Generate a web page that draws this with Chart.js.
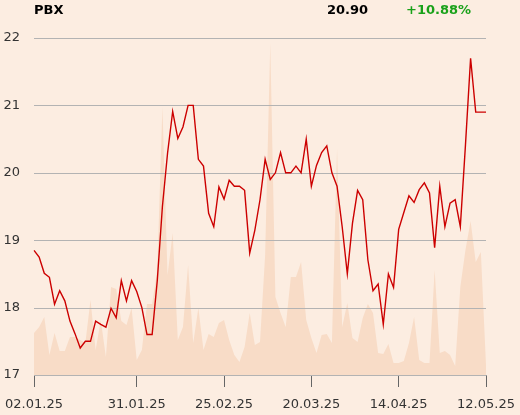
<!DOCTYPE html>
<html>
<head>
<meta charset="utf-8">
<script src="https://cdn.jsdelivr.net/npm/chart.js@4"></script>
<style>
  html, body { margin: 0; padding: 0; background: #fcede1; }
  #wrap { position: relative; width: 520px; height: 415px; font-family: "DejaVu Sans", sans-serif; }
  .hdr { position: absolute; top: 2px; font-size: 13px; font-weight: bold; color: #000; }
  #name { left: 34px; }
  #last { left: 327px; }
  #chg { left: 406px; color: #19a119; }
  canvas { position: absolute; left: 0; top: 0; }
</style>
</head>
<body>
<div id="wrap">
  <canvas id="chart" width="520" height="415"></canvas>
  <div class="hdr" id="name">PBX</div>
  <div class="hdr" id="last">20.90</div>
  <div class="hdr" id="chg">+10.88%</div>
</div>
<script>
// trading days shown on the chart
const dates = [
  '02.01.25','03.01.25','07.01.25','08.01.25','09.01.25','10.01.25','13.01.25','14.01.25','15.01.25','16.01.25',
  '17.01.25','20.01.25','21.01.25','22.01.25','23.01.25','24.01.25','27.01.25','28.01.25','29.01.25','30.01.25',
  '31.01.25','03.02.25','04.02.25','05.02.25','06.02.25','07.02.25','10.02.25','11.02.25','12.02.25','13.02.25',
  '14.02.25','17.02.25','18.02.25','19.02.25','20.02.25','21.02.25','24.02.25','25.02.25','26.02.25','27.02.25',
  '28.02.25','03.03.25','04.03.25','05.03.25','06.03.25','07.03.25','10.03.25','11.03.25','12.03.25','13.03.25',
  '14.03.25','17.03.25','18.03.25','19.03.25','20.03.25','21.03.25','24.03.25','25.03.25','26.03.25','27.03.25',
  '28.03.25','31.03.25','01.04.25','02.04.25','03.04.25','04.04.25','07.04.25','08.04.25','09.04.25','10.04.25',
  '11.04.25','14.04.25','15.04.25','16.04.25','17.04.25','22.04.25','23.04.25','24.04.25','25.04.25','28.04.25',
  '29.04.25','30.04.25','02.05.25','05.05.25','06.05.25','07.05.25','08.05.25','09.05.25','12.05.25'
];

// closing price
const prices = [
  18.85, 18.75, 18.51, 18.45, 18.05, 18.25, 18.10, 17.80, 17.61, 17.40,
  17.50, 17.50, 17.80, 17.75, 17.71, 17.99, 17.85, 18.40, 18.10, 18.40,
  18.24, 18.00, 17.60, 17.60, 18.40, 19.50, 20.29, 20.91, 20.51, 20.68,
  21.00, 21.00, 20.20, 20.10, 19.40, 19.20, 19.79, 19.61, 19.89, 19.80,
  19.80, 19.74, 18.81, 19.15, 19.60, 20.20, 19.90, 20.00, 20.30, 20.00,
  20.00, 20.10, 20.00, 20.50, 19.80, 20.11, 20.30, 20.40, 20.00, 19.80,
  19.20, 18.50, 19.25, 19.74, 19.60, 18.71, 18.25, 18.35, 17.75, 18.50,
  18.30, 19.16, 19.41, 19.66, 19.56, 19.75, 19.85, 19.70, 18.89, 19.80,
  19.20, 19.55, 19.60, 19.20, 20.41, 21.70, 20.90, 20.90, 20.90
];

// traded volume (thousand shares)
const volumes = [
  42, 48, 58, 20, 42, 24, 24, 38, 38, 35,
  32, 75, 25, 55, 18, 88, 86, 54, 50, 67,
  15, 25, 71, 71, 105, 268, 100, 142, 35, 48,
  110, 32, 67, 25, 41, 38, 52, 55, 35, 20,
  13, 28, 62, 30, 33, 120, 332, 78, 62, 48,
  98, 98, 113, 55, 37, 22, 40, 41, 32, 226,
  48, 72, 37, 33, 57, 71, 62, 22, 21, 31,
  12, 12, 14, 32, 58, 15, 12, 12, 105, 22,
  24, 20, 9, 88, 125, 154, 113, 123, 10
];

const tickDates = ['02.01.25', '31.01.25', '25.02.25', '20.03.25', '14.04.25', '12.05.25'];
const priceTicks = [17, 18, 19, 20, 21, 22];

// horizontal grid drawn above the volume area but below the price line
const gridAboveVolume = {
  id: 'gridAboveVolume',
  afterDatasetDraw(chart, args) {
    if (args.index !== 1) return;
    const { ctx, chartArea } = chart;
    const y = chart.scales.y;
    ctx.save();
    ctx.strokeStyle = '#b3b3b3';
    ctx.lineWidth = 1;
    priceTicks.forEach(v => {
      const py = Math.round(y.getPixelForValue(v)) + 0.5;
      ctx.beginPath();
      ctx.moveTo(chartArea.left, py);
      ctx.lineTo(chartArea.right, py);
      ctx.stroke();
    });
    ctx.restore();
  }
};

new Chart(document.getElementById('chart'), {
  type: 'line',
  data: {
    labels: dates,
    datasets: [
      {
        label: 'PBX',
        data: prices,
        borderColor: '#cc0000',
        borderWidth: 1.4,
        pointRadius: 0,
        tension: 0,
        yAxisID: 'y',
        order: 0
      },
      {
        label: 'Volume',
        data: volumes,
        borderWidth: 0,
        backgroundColor: '#f8dcc7',
        fill: 'origin',
        pointRadius: 0,
        tension: 0,
        yAxisID: 'y2',
        order: 1
      }
    ]
  },
  options: {
    responsive: false,
    animation: false,
    layout: { padding: { top: 38, right: 34, left: 0, bottom: 0 } },
    plugins: {
      legend: { display: false },
      tooltip: { enabled: false }
    },
    scales: {
      x: {
        offset: false,
        grid: { drawOnChartArea: false, drawTicks: true, tickLength: 12, color: '#666' },
        border: { display: true, color: '#999' },
        ticks: {
          autoSkip: false,
          maxRotation: 0,
          padding: 10,
          color: '#333',
          font: { family: 'DejaVu Sans', size: 13 }
        },
        afterBuildTicks: s => {
          s.ticks = s.ticks.filter(t => tickDates.includes(dates[t.value]));
        },
        afterFit: s => {
          s.height = 40;
          s.paddingLeft = 0;
          s.paddingRight = 0;
        }
      },
      y: {
        min: 17,
        max: 22,
        grid: { display: false },
        border: { display: false },
        ticks: {
          stepSize: 1,
          padding: 6,
          color: '#333',
          font: { family: 'DejaVu Sans', size: 13 }
        },
        afterFit: s => { s.width = 34; }
      },
      y2: {
        display: false,
        min: 0,
        max: 337
      }
    }
  },
  plugins: [gridAboveVolume]
});
</script>
</body>
</html>
